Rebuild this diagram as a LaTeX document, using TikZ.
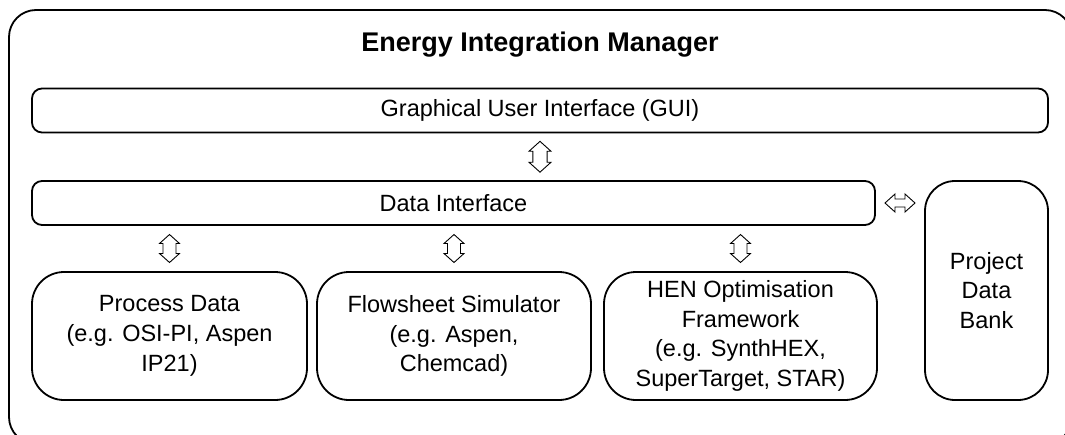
\documentclass[tikz,border=0pt]{standalone}
\usepackage{fontspec}
\setmainfont{Liberation Sans}
\usetikzlibrary{calc}
\tikzset{
  boxline/.style={draw=black, line width=1.8pt},
  slimbox/.style={boxline, rounded corners=10pt, minimum height=44pt, inner sep=0pt,
    font=\fontsize{23.5}{29.7}\selectfont},
  bigbox/.style={boxline, rounded corners=32pt, minimum height=128pt, inner sep=0pt,
    align=center, font=\fontsize{23.5}{29.7}\selectfont},
  arrline/.style={draw=black, line width=0.9pt, line join=miter, fill=white},
  pics/vdarr/.style={code={
    \draw[arrline] (0,-14) -- (10,-5) -- (6.5,-5) -- (6.5,5) -- (10,5) -- (0,14)
      -- (-10,5) -- (-6.5,5) -- (-6.5,-5) -- (-10,-5) -- cycle;}},
  pics/hdarr/.style={code={
    \draw[arrline] (-15,0) -- (-5,-9) -- (-5,-4) -- (5,-4) -- (5,-9) -- (15,0)
      -- (5,9) -- (5,4) -- (-5,4) -- (-5,9) -- cycle;}},
}
\begin{document}
\begin{tikzpicture}[x=1pt,y=-1pt]
\useasboundingbox (0,0) rectangle (1065,434);
\clip (0,0) rectangle (1065,434);
\draw[boxline, rounded corners=27pt] (9,10) rectangle (1072,444);
\node[font=\fontsize{27}{32}\selectfont\bfseries] (title) at (540,45) {Energy Integration Manager};
\node[slimbox, minimum width=1016pt] (gui) at (540,110.5) {\raisebox{-1.5pt}{Graphical User Interface (GUI)}};
\node[slimbox, minimum width=843pt] (di) at (453.5,203) {\raisebox{-1.5pt}{Data Interface}};
\node[bigbox, minimum width=275pt] (pd) at (169.5,336) {Process Data\\(e.g. OSI-PI, Aspen\\IP21)};
\node[bigbox, minimum width=274pt] (fs) at (454,336) {Flowsheet Simulator\\(e.g. Aspen,\\Chemcad)};
\node[bigbox, minimum width=273pt] (hen) at (740.5,336) {HEN Optimisation\\Framework\\(e.g. SynthHEX,\\SuperTarget, STAR)};
\node[bigbox, rounded corners=30pt, minimum width=123pt, minimum height=219pt] (pdb) at (986.5,290.5) {Project\\Data\\Bank};
\pic[scale=1.1] at ($(gui.south)!0.5!(gui.south |- di.north)$) {vdarr};
\pic at ($(pd.north)!0.5!(pd.north |- di.south)$) {vdarr};
\pic at ($(fs.north)!0.5!(fs.north |- di.south)$) {vdarr};
\pic at ($(hen.north)!0.5!(hen.north |- di.south)$) {vdarr};
\pic at ($(di.east)!0.5!(di.east -| pdb.west)$) {hdarr};
\end{tikzpicture}
\end{document}
